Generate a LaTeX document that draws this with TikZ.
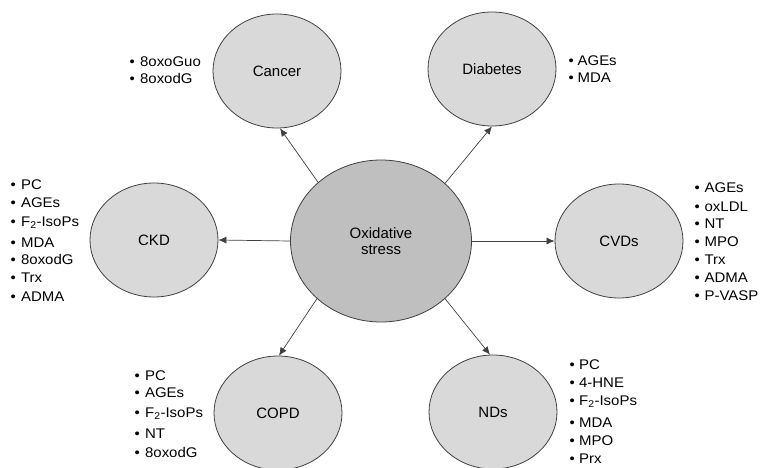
\documentclass[tikz,border=0pt]{standalone}
\usepackage{fontspec}
\setmainfont{Liberation Sans}
\newfontfamily\listfont[FakeStretch=1.07]{Liberation Sans}
\usetikzlibrary{arrows.meta,shapes.geometric}
\definecolor{satfill}{HTML}{D9D9D9}
\definecolor{hubfill}{HTML}{BFBFBF}
\definecolor{edge}{HTML}{404040}
\begin{document}
\begin{tikzpicture}[x=1pt,y=-1pt,
  dis/.style={ellipse, draw=edge, line width=0.8pt, fill=satfill,
    minimum width=128pt, minimum height=114pt, inner sep=0pt,
    font=\fontsize{15}{16}\selectfont},
  hub/.style={dis, fill=hubfill, minimum width=181pt, minimum height=162pt,
    align=center},
  item/.style={anchor=base west, inner sep=0pt, font=\listfont\fontsize{14}{15}\selectfont},
  link/.style={-{Latex[length=8pt,width=7pt]}, draw=black!75, line width=0.7pt}]
\useasboundingbox (0,0) rectangle (760,468);
\fill[white] (0,0) rectangle (760,468);

\node[hub] (os) at (381,241) {Oxidative\\stress};
\node[dis] (cancer) at (277,71) {Cancer};
\node[dis] (diab) at (492,69) {Diabetes};
\node[dis] (ckd) at (154,240) {CKD};
\node[dis] (cvd) at (619,241) {CVDs};
\node[dis] (copd) at (278,413) {COPD};
\node[dis] (nds) at (493,412) {NDs};

\draw[link] (os.137) -- (cancer.273);
\draw[link] (os.42) -- (diab.270);
\draw[link] (os.west) -- (ckd.east);
\draw[link] (os.east) -- (cvd.west);
\draw[link] (os.222) -- (copd.89);
\draw[link] (os.318) -- (nds.93);

\foreach \t/\y [count=\i] in {8oxoGuo/67, 8oxodG/84}
  \node[item] (cancerL\i) at (129.5,\y) {\textbullet\ \hspace{1pt}\t};
\foreach \t/\y [count=\i] in {AGEs/66, MDA/83}
  \node[item] (diabL\i) at (568.5,\y) {\textbullet\ \hspace{-0.5pt}\t};
\foreach \t/\y [count=\i] in {PC/189, AGEs/207, {F\textsubscript{2}-IsoPs}/226, MDA/247, 8oxodG/264, Trx/282, ADMA/301}
  \node[item] (ckdL\i) at (10.5,\y) {\textbullet\ \hspace{1pt}\t};
\foreach \t/\y [count=\i] in {AGEs/192, oxLDL/211, NT/228, MPO/246, Trx/264, ADMA/282, P-VASP/300}
  \node[item] (cvdL\i) at (694.5,\y) {\textbullet\ \hspace{0.5pt}\t};
\foreach \t/\y [count=\i] in {PC/380, AGEs/397, {F\textsubscript{2}-IsoPs}/417, NT/438, 8oxodG/457}
  \node[item] (copdL\i) at (134.5,\y) {\textbullet\ \hspace{1pt}\t};
\foreach \t/\y [count=\i] in {PC/369, 4-HNE/387, {F\textsubscript{2}-IsoPs}/405, MDA/427, MPO/445, Prx/463}
  \node[item] (ndsL\i) at (569.5,\y) {\textbullet\ \hspace{0pt}\t};
\end{tikzpicture}
\end{document}
